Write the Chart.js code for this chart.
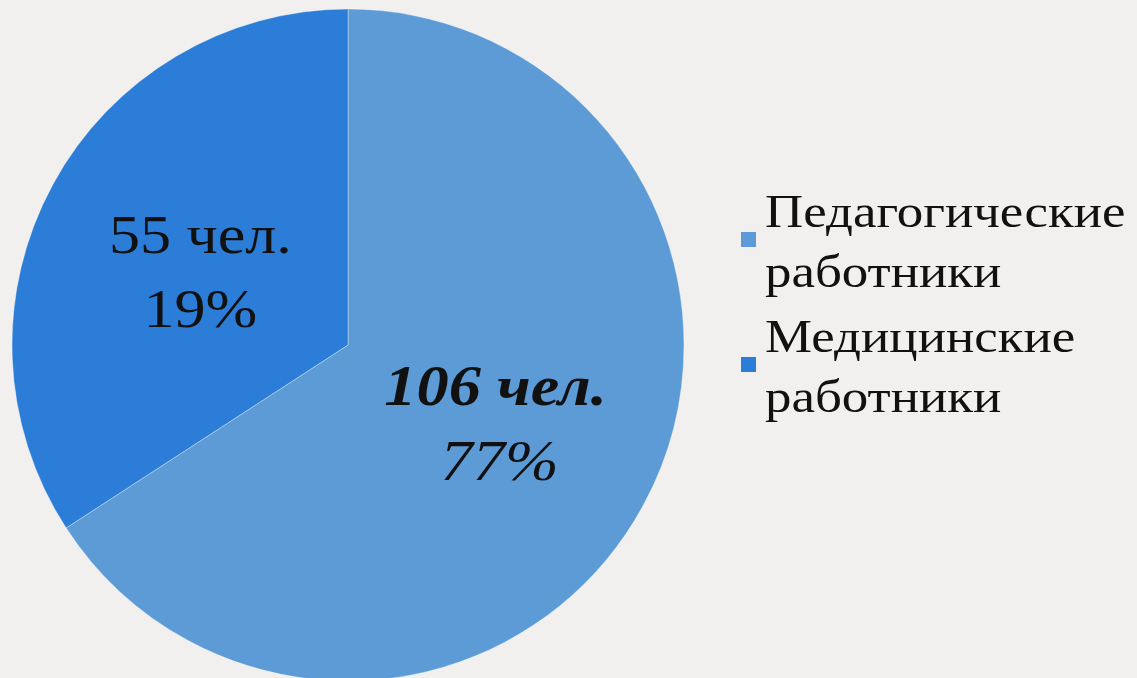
<!DOCTYPE html>
<html>
<head>
<meta charset="utf-8">
<script src="https://cdn.jsdelivr.net/npm/chart.js@4"></script>
<style>
  html, body { margin: 0; padding: 0; background: #f1f0ee; overflow: hidden; }
  #wrap { width: 1137px; height: 678px; position: relative; }
</style>
</head>
<body>
<div id="wrap"><canvas id="mycanvas" width="1137" height="678"></canvas></div>
<script>
var categories = [['Педагогические', 'работники'], ['Медицинские', 'работники']];
var values = [106, 55];
var countLabels = ['106 чел.', '55 чел.'];
var percentLabels = ['77%', '19%'];
var colors = ['#5c9bd5', '#2b7dd7'];

var ctx = document.getElementById('mycanvas').getContext('2d');

// text in the picture is a bit wider than Liberation Serif, stretch it
var SX = 1.15;
function wideText(c, t, x, y) {
    c.save();
    c.translate(x, y);
    c.scale(SX, 1);
    c.fillText(t, 0, 0);
    c.restore();
}

// labels inside slices + legend on the right
var drawText = {
    id: 'drawText',
    afterDatasetsDraw: function (chart) {
        var c = chart.ctx;
        var meta = chart.getDatasetMeta(0);
        c.save();
        c.fillStyle = '#111';
        c.textAlign = 'center';
        c.textBaseline = 'alphabetic';
        meta.data.forEach(function (arc, i) {
            var p = arc.tooltipPosition();
            if (i == 0) {
                c.font = 'italic bold 56px "Liberation Serif"';
                wideText(c, countLabels[i], p.x, p.y - 20);
                c.font = 'italic 56px "Liberation Serif"';
                wideText(c, percentLabels[i], p.x + 4, p.y + 55);
            } else {
                c.font = '54px "Liberation Serif"';
                wideText(c, countLabels[i], p.x, p.y - 12);
                wideText(c, percentLabels[i], p.x, p.y + 62);
            }
        });

        // legend
        c.textAlign = 'left';
        c.font = '46px "Liberation Serif"';
        var lx = 741, ly = 227;
        categories.forEach(function (lines, i) {
            var y0 = ly + i * 125;
            c.fillStyle = colors[i];
            c.fillRect(lx, y0 + 5, 15, 15);
            c.fillStyle = '#111';
            lines.forEach(function (t, j) {
                wideText(c, t, lx + 24, y0 + j * 60);
            });
        });
        c.restore();
    }
};

var myChart = new Chart(ctx, {
    type: 'pie',
    data: {
        labels: categories,
        datasets: [{
            data: values,
            backgroundColor: colors,
            borderColor: 'rgba(255,255,255,0.35)',
            borderWidth: 1,
            radius: 336
        }]
    },
    options: {
        responsive: false,
        animation: false,
        layout: {
            padding: {left: 12, right: 453, top: 12, bottom: 0}
        },
        plugins: {
            legend: {display: false},
            tooltip: {enabled: false}
        }
    },
    plugins: [drawText]
});
</script>
</body>
</html>
